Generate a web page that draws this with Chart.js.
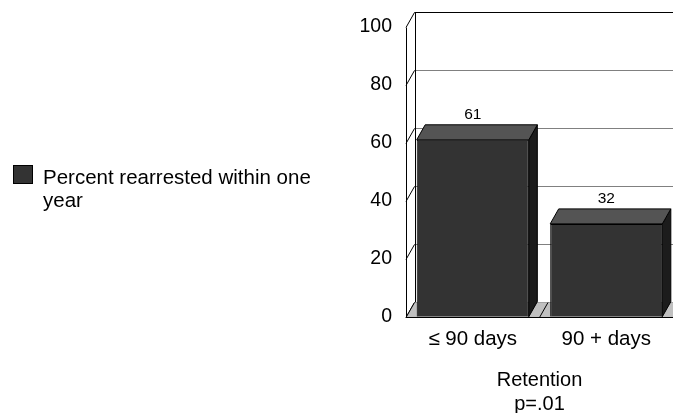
<!DOCTYPE html>
<html>
<head>
<meta charset="utf-8">
<script src="https://cdn.jsdelivr.net/npm/chart.js@4/dist/chart.umd.min.js"></script>
<style>
  html, body { margin: 0; padding: 0; background: #fff; }
  canvas { display: block; }
</style>
</head>
<body>
<canvas id="barchart1" width="673" height="413"></canvas>
<script>
// data
const categories = ['\u2264 90 days', '90 + days'];
const percentRearrested = [61, 32];
const seriesLabel = ['Percent rearrested within one', 'year'];
const axisTitle = ['Retention', 'p=.01'];
const yMin = 0;
const yMax = 100;
const yStep = 20;

const FONT = '"Liberation Sans", Arial, Helvetica, sans-serif';
const DX = 8.5;   // depth of the 3d look
const DY = 15;

// back wall, side wall and floor, drawn behind the bars
const walls3d = {
  id: 'walls3d',
  beforeDatasetsDraw(chart) {
    const ctx = chart.ctx;
    const a = chart.chartArea;
    const y = chart.scales.y;
    const x = chart.scales.x;
    ctx.save();
    ctx.lineWidth = 1;

    // back wall
    ctx.fillStyle = '#fff';
    ctx.fillRect(a.left + DX, a.top - DY, a.right - a.left, a.bottom - a.top);

    // grid on the back wall + diagonals on the side wall
    y.ticks.forEach(t => {
      const py = Math.round(y.getPixelForValue(t.value)) + 0.5;
      ctx.strokeStyle = t.value === yMax ? '#000' : '#808080';
      ctx.beginPath();
      ctx.moveTo(a.left + DX, py - DY);
      ctx.lineTo(a.right + DX + 10, py - DY);
      ctx.stroke();
      ctx.strokeStyle = '#000';
      ctx.beginPath();
      ctx.moveTo(a.left, py);
      ctx.lineTo(a.left + DX, py - DY);
      ctx.stroke();
    });

    // wall verticals
    const top = Math.round(y.getPixelForValue(yMax)) + 0.5;
    const bot = Math.round(y.getPixelForValue(yMin)) + 0.5;
    ctx.strokeStyle = '#000';
    ctx.beginPath();
    ctx.moveTo(Math.round(a.left) + 0.5, top);
    ctx.lineTo(Math.round(a.left) + 0.5, bot);
    ctx.moveTo(Math.round(a.left + DX) + 0.5, top - DY);
    ctx.lineTo(Math.round(a.left + DX) + 0.5, bot - DY);
    ctx.stroke();

    // floor
    ctx.fillStyle = '#c0c0c0';
    ctx.beginPath();
    ctx.moveTo(a.left, bot);
    ctx.lineTo(a.right + 10, bot);
    ctx.lineTo(a.right + DX + 10, bot - DY);
    ctx.lineTo(a.left + DX, bot - DY);
    ctx.closePath();
    ctx.fill();
    ctx.strokeStyle = '#000';
    ctx.beginPath();
    ctx.moveTo(a.left, bot);
    ctx.lineTo(a.right + 10, bot);
    ctx.stroke();

    // category dividers on the floor
    const half = (x.getPixelForValue(1) - x.getPixelForValue(0)) / 2;
    const edges = [x.getPixelForValue(0) - half];
    categories.forEach((c, i) => edges.push(x.getPixelForValue(i) + half));
    ctx.beginPath();
    edges.forEach(ex => {
      ctx.moveTo(ex, bot);
      ctx.lineTo(ex + DX, bot - DY);
    });
    ctx.stroke();
    ctx.restore();
  },
  // top and side of every bar, plus value labels
  afterDatasetsDraw(chart) {
    const ctx = chart.ctx;
    const meta = chart.getDatasetMeta(0);
    ctx.save();
    ctx.lineWidth = 1;
    ctx.strokeStyle = '#000';
    meta.data.forEach((bar, i) => {
      const l = bar.x - bar.width / 2;
      const r = bar.x + bar.width / 2;
      const t = bar.y;
      const b = bar.base;

      ctx.fillStyle = '#1c1c1c';
      ctx.beginPath();
      ctx.moveTo(r, t);
      ctx.lineTo(r + DX, t - DY);
      ctx.lineTo(r + DX, b - DY);
      ctx.lineTo(r, b);
      ctx.closePath();
      ctx.fill();
      ctx.stroke();

      ctx.fillStyle = '#545454';
      ctx.beginPath();
      ctx.moveTo(l, t);
      ctx.lineTo(r, t);
      ctx.lineTo(r + DX, t - DY);
      ctx.lineTo(l + DX, t - DY);
      ctx.closePath();
      ctx.fill();
      ctx.stroke();

      ctx.fillStyle = '#000';
      ctx.font = '15.5px ' + FONT;
      ctx.textAlign = 'center';
      ctx.textBaseline = 'middle';
      ctx.fillText(String(percentRearrested[i]), bar.x, t - DY - 10);
    });
    ctx.restore();
  },
  // legend at the left
  afterDraw(chart) {
    const ctx = chart.ctx;
    ctx.save();
    ctx.fillStyle = '#333';
    ctx.strokeStyle = '#000';
    ctx.fillRect(13, 165, 20, 19);
    ctx.strokeRect(13.5, 165.5, 19, 18);
    ctx.fillStyle = '#000';
    ctx.font = '20.5px ' + FONT;
    ctx.textAlign = 'left';
    ctx.textBaseline = 'alphabetic';
    seriesLabel.forEach((line, i) => ctx.fillText(line, 43, 184 + i * 23));
    ctx.restore();
  }
};

const data = {
  labels: categories,
  datasets: [{
    label: seriesLabel.join(' '),
    data: percentRearrested,
    backgroundColor: '#333333',
    borderColor: '#000',
    borderWidth: 1,
    barPercentage: 0.84,
    categoryPercentage: 1
  }]
};

new Chart(document.getElementById('barchart1'), {
  type: 'bar',
  data: data,
  options: {
    responsive: false,
    animation: false,
    layout: { padding: { top: 26.7, right: 0, bottom: 0, left: 0 } },
    plugins: {
      legend: { display: false },
      tooltip: { enabled: false }
    },
    scales: {
      x: {
        grid: { display: false, drawTicks: false },
        border: { display: false },
        ticks: { color: '#000', font: { family: FONT, size: 20.5 }, padding: 10 },
        title: {
          display: true,
          text: axisTitle,
          color: '#000',
          font: { family: FONT, size: 20, lineHeight: 1.2 },
          padding: { top: 0, bottom: -3 }
        },
        afterFit(scale) { scale.height = 96.3; }
      },
      y: {
        min: yMin,
        max: yMax,
        grid: { display: false, drawTicks: false },
        border: { display: false },
        ticks: { stepSize: yStep, color: '#000', font: { family: FONT, size: 19.5 }, padding: 14 },
        afterFit(scale) { scale.width = 406; }
      }
    }
  },
  plugins: [walls3d]
});
</script>
</body>
</html>
